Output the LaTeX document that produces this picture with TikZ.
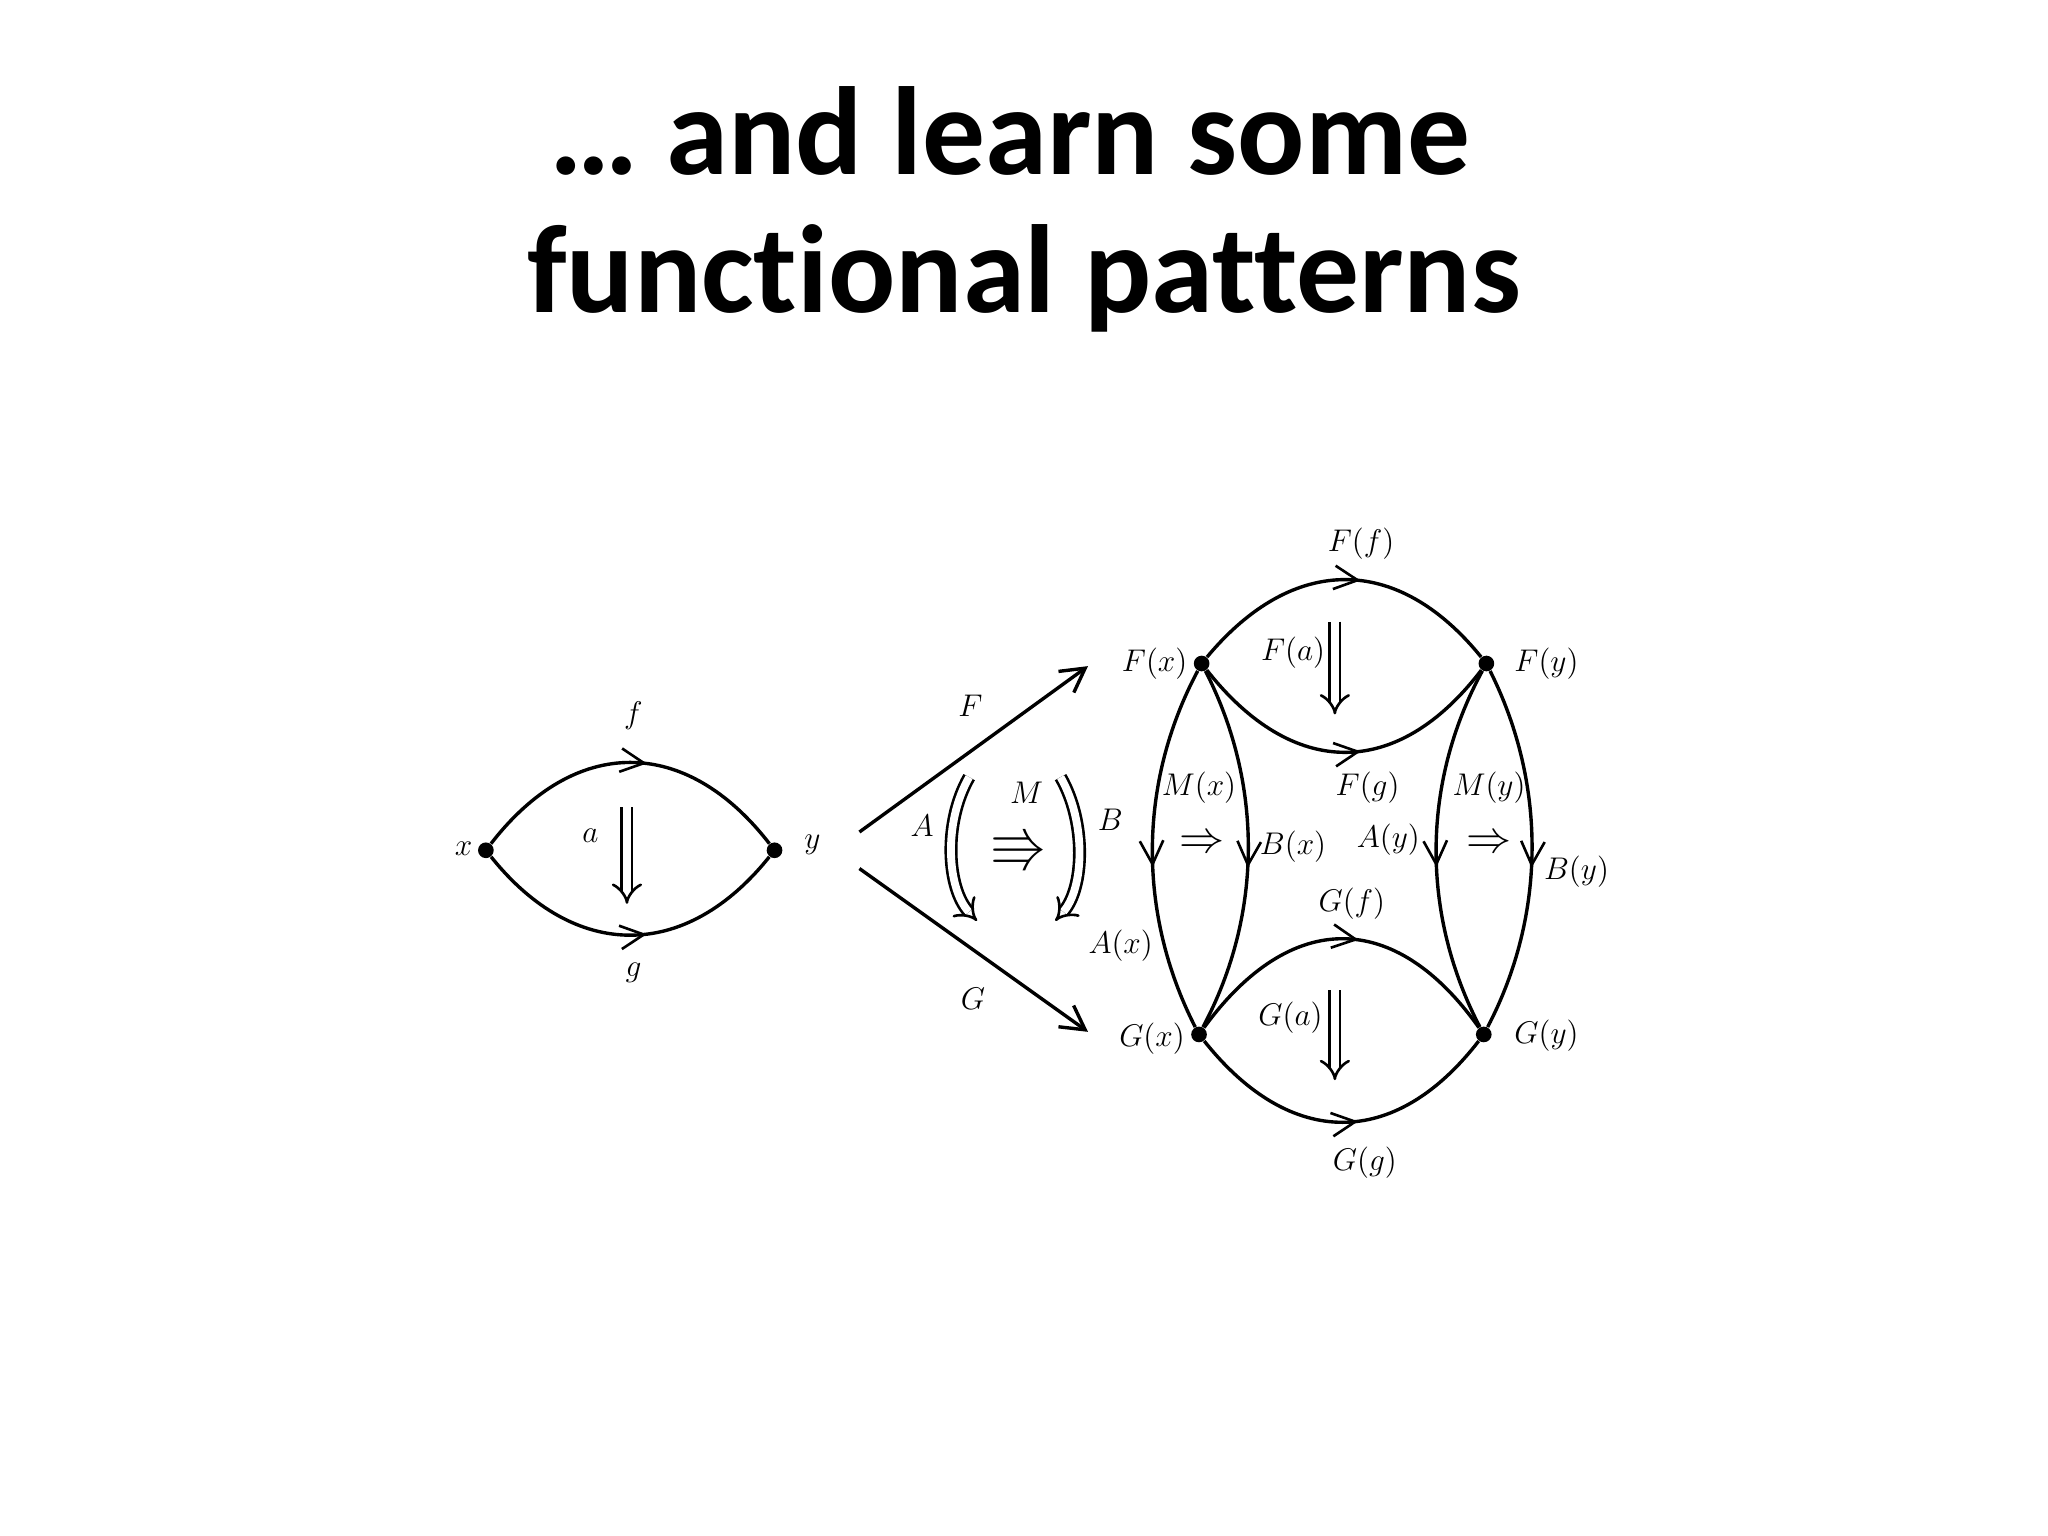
\documentclass[tikz,border=0pt]{standalone}
\usepackage{fontspec}
\usepackage{amssymb}
\newfontfamily\titlefont[Ligatures=NoCommon]{Carlito}
\usetikzlibrary{arrows.meta,decorations.markings}
\tikzset{
 midarr/.style={postaction={decorate},decoration={markings,mark=at position 0.55 with {\arrow{Straight Barb[length=9pt,width=9pt,line width=1pt]}}}},
 ln/.style={line width=1.3pt},
 dot/.style={circle,fill=black,inner sep=0pt,minimum size=6pt},
 lab/.style={font=\fontsize{12}{13}\selectfont},
 dbl/.style={double,double distance=3pt,line width=1pt,-{Implies}},
}
\begin{document}
\begin{tikzpicture}[x=0.5pt,y=-0.5pt]
\useasboundingbox[fill=white] (0,0) rectangle (1568,1176);
\node[font=\titlefont\bfseries\fontsize{48}{54}\selectfont] (t1) at (773,100) {… and learn some};
\node[font=\titlefont\bfseries\fontsize{48}{54}\selectfont] (t2) at (784,213) {functional patterns};
% left
\node[dot] (x) at (372,651) {};
\node[dot] (y) at (593,651) {};
\draw[ln,midarr] (x) .. controls (440,563) and (525,563) .. (y);
\draw[ln,midarr] (x) .. controls (440,736) and (525,736) .. (y);
\node[lab] (lf) at (485,548) {$f$};
\node[lab] (lg) at (485,745) {$g$};
\node[lab] (lx) at (355,650) {$x$};
\node[lab] (ly) at (622,647) {$y$};
\node[lab] (la) at (452,640) {$a$};
\coordinate (a1) at (480,618); \coordinate (a2) at (480,692);
\draw[dbl] (a1) -- (a2);
% functors
\coordinate (s1) at (658,637); \coordinate (e1) at (833,510);
\coordinate (s2) at (658,665); \coordinate (e2) at (833,790);
\draw[ln,-{Straight Barb[length=9pt,width=10pt]}] (s1) -- (e1);
\draw[ln,-{Straight Barb[length=9pt,width=10pt]}] (s2) -- (e2);
\node[lab] (lF) at (743,540) {$F$};
\node[lab] (lG) at (745,765) {$G$};
\coordinate (A1) at (742,595); \coordinate (A2) at (748,705);
\draw[dbl] (A1) .. controls (722,630) and (725,680) .. (A2);
\coordinate (B1) at (812,595); \coordinate (B2) at (808,705);
\draw[dbl] (B1) .. controls (832,630) and (830,680) .. (B2);
\node[lab] (lA) at (706,632) {$A$};
\node[lab] (lB) at (850,628) {$B$};
\node[lab] (lM) at (786,607) {$M$};
\node[font=\fontsize{22}{22}\selectfont] (Mar) at (780,651) {$\Rrightarrow$};
% right
\node[dot] (Fx) at (920,508) {};
\node[dot] (Fy) at (1138,508) {};
\node[dot] (Gx) at (918,792) {};
\node[dot] (Gy) at (1136,792) {};
\draw[ln,midarr] (Fx) .. controls (990,424) and (1070,424) .. (Fy);
\draw[ln,midarr] (Fx) .. controls (990,597) and (1070,597) .. (Fy);
\draw[ln,midarr] (Gx) .. controls (988,696) and (1068,696) .. (Gy);
\draw[ln,midarr] (Gx) .. controls (988,880) and (1068,880) .. (Gy);
\draw[ln,midarr] (Fx) .. controls (871,600) and (871,700) .. (Gx);
\draw[ln,midarr] (Fx) .. controls (967,600) and (967,700) .. (Gx);
\draw[ln,midarr] (Fy) .. controls (1088,600) and (1088,700) .. (Gy);
\draw[ln,midarr] (Fy) .. controls (1184,600) and (1184,700) .. (Gy);
\node[lab] (lFx) at (884,508) {$F(x)$};
\node[lab] (lFy) at (1184,508) {$F(y)$};
\node[lab] (lGx) at (882,795) {$G(x)$};
\node[lab] (lGy) at (1184,793) {$G(y)$};
\node[lab] (lFf) at (1042,416) {$F(f)$};
\node[lab] (lFg) at (1047,603) {$F(g)$};
\node[lab] (lFa) at (990,500) {$F(a)$};
\node[lab] (lGf) at (1035,692) {$G(f)$};
\node[lab] (lGg) at (1045,890) {$G(g)$};
\node[lab] (lGa) at (988,779) {$G(a)$};
\coordinate (fa1) at (1022,476); \coordinate (fa2) at (1022,547);
\draw[dbl] (fa1) -- (fa2);
\coordinate (ga1) at (1022,758); \coordinate (ga2) at (1022,827);
\draw[dbl] (ga1) -- (ga2);
\node[lab] (lMx) at (918,603) {$M(x)$};
\node[lab] (lBx) at (990,648) {$B(x)$};
\node[lab] (lAx) at (858,724) {$A(x)$};
\node[lab] (lMy) at (1140,603) {$M(y)$};
\node[lab] (lAy) at (1063,643) {$A(y)$};
\node[lab] (lBy) at (1207,667) {$B(y)$};
\node[font=\fontsize{18}{18}\selectfont] (mx) at (920,646) {$\Rightarrow$};
\node[font=\fontsize{18}{18}\selectfont] (my) at (1140,646) {$\Rightarrow$};
\end{tikzpicture}
\end{document}
